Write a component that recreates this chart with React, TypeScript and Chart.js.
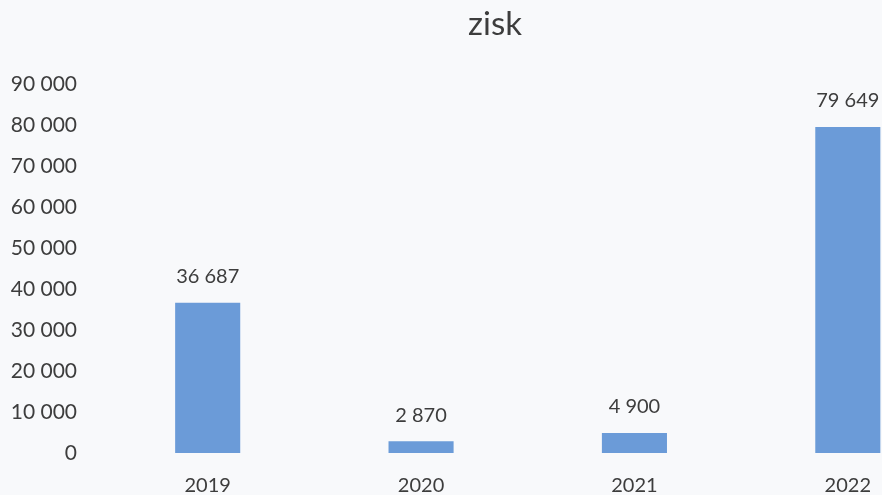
import React, { useEffect, useRef } from "react";
import { Chart, registerables } from "chart.js";

Chart.register(...registerables);

const categories = ["2019", "2020", "2021", "2022"];
const profit = [36687, 2870, 4900, 79649];
const yTicks = [0, 10000, 20000, 30000, 40000, 50000, 60000, 70000, 80000, 90000];
const titleText = "zisk";

const fmt = (v: number) => String(v).replace(/\B(?=(\d{3})+(?!\d))/g, " ");

const FONT = "Lato, 'Open Sans', sans-serif";
const TEXT = "#3d3d3d";

const valueLabels = {
  id: "valueLabels",
  afterDatasetsDraw(chart: any) {
    const ctx = chart.ctx;
    const meta = chart.getDatasetMeta(0);
    ctx.save();
    ctx.font = `20px ${FONT}`;
    ctx.fillStyle = TEXT;
    ctx.textAlign = "center";
    ctx.textBaseline = "middle";
    meta.data.forEach((bar: any, i: number) => {
      ctx.fillText(fmt(profit[i]), bar.x, bar.y - 26);
    });
    ctx.restore();
  },
};

export default function App() {
  const ref = useRef<HTMLCanvasElement | null>(null);
  useEffect(() => {
    if (!ref.current) return;
    const chart = new Chart(ref.current, {
      type: "bar",
      data: {
        labels: categories,
        datasets: [
          {
            label: titleText,
            data: profit,
            backgroundColor: "#6b9bd8",
            barPercentage: 0.61,
            categoryPercentage: 0.5,
            yAxisID: "y",
          },
        ],
      },
      options: {
        responsive: false,
        animation: false,
        devicePixelRatio: 1,
        layout: { padding: { left: 0, right: 0, top: 0, bottom: -16 } },
        plugins: {
          legend: { display: false },
          tooltip: { enabled: false },
          title: {
            display: true,
            text: titleText,
            color: TEXT,
            font: { family: FONT, size: 33, weight: "normal" },
            padding: { top: 5, bottom: 40 },
          },
        },
        scales: {
          x: {
            grid: { display: false },
            border: { display: false },
            ticks: {
              color: TEXT,
              font: { family: FONT, size: 20 },
              padding: 13,
              maxRotation: 0,
            },
          },
          y: {
            min: 0,
            max: 90000,
            grid: { display: false },
            border: { display: false },
            afterFit: (scale: any) => {
              scale.width = 101;
            },
            afterBuildTicks: (scale: any) => {
              scale.ticks = yTicks.map((v) => ({ value: v }));
            },
            ticks: {
              color: TEXT,
              font: { family: FONT, size: 21 },
              padding: 16,
              callback: (v: any) => fmt(Number(v)),
            },
          },
          yRight: {
            position: "right",
            min: 0,
            max: 90000,
            grid: { display: false },
            border: { display: false },
            ticks: { display: false },
            afterFit: (scale: any) => {
              scale.width = 35.5;
            },
          },
        },
      },
      plugins: [valueLabels],
    });
    return () => chart.destroy();
  }, []);
  return (
    <div
      style={{
        position: "fixed",
        left: 0,
        top: 0,
        width: 882,
        height: 495,
        overflow: "hidden",
        background: "#f8f9fb",
      }}
    >
      <canvas ref={ref} width={990} height={495} style={{ width: 990, height: 495, display: "block" }} />
    </div>
  );
}
